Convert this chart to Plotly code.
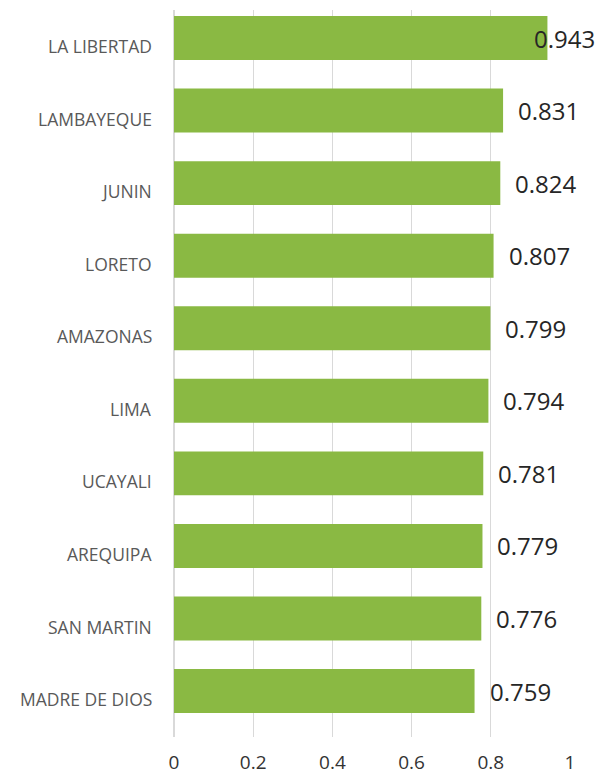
import plotly.graph_objects as go

# Data
regions = ["LA LIBERTAD", "LAMBAYEQUE", "JUNIN", "LORETO", "AMAZONAS",
           "LIMA", "UCAYALI", "AREQUIPA", "SAN MARTIN", "MADRE DE DIOS"]
values = [0.943, 0.831, 0.824, 0.807, 0.799, 0.794, 0.781, 0.779, 0.776, 0.759]
x_ticks = [0, 0.2, 0.4, 0.6, 0.8, 1]
x_tick_labels = ["0", "0.2", "0.4", "0.6", "0.8", "1"]

BAR_COLOR = "#8ab943"
GRID_COLOR = "#d9d9d9"

fig = go.Figure(go.Bar(
    x=values,
    y=regions,
    orientation="h",
    marker=dict(color=BAR_COLOR, line=dict(width=0)),
    width=0.606,
    hoverinfo="x+y",
))

for i, (r, v) in enumerate(zip(regions, values)):
    # value label (first one tucked back over the bar end, as in the original)
    fig.add_annotation(
        x=v, y=r, text=f"{v:.3f}", showarrow=False,
        xanchor="left", yanchor="middle",
        xshift=-15 if i == 0 else 13,
        font=dict(family="Open Sans", size=24, color="#262626"),
    )
    # category label, sitting a little below the bar centre like Excel does
    fig.add_annotation(
        x=0, xref="paper", y=r, text=r, showarrow=False,
        xanchor="right", yanchor="middle",
        xshift=-20, yshift=-8,
        font=dict(family="Open Sans", size=17.5, color="#595959"),
    )

fig.update_layout(
    width=598,
    height=774,
    margin=dict(l=174, r=28, t=10, b=37),
    plot_bgcolor="white",
    paper_bgcolor="white",
    showlegend=False,
)

fig.update_xaxes(
    range=[0, 1],
    tickvals=x_ticks,
    ticktext=x_tick_labels,
    showgrid=True,
    gridcolor=GRID_COLOR,
    gridwidth=1,
    zeroline=True,
    zerolinecolor=GRID_COLOR,
    zerolinewidth=1.5,
    showline=False,
    ticks="",
    ticklabelstandoff=12,
    tickfont=dict(family="Open Sans", size=19, color="#333333"),
    automargin=False,
    fixedrange=True,
)

fig.update_yaxes(
    categoryorder="array",
    categoryarray=regions,
    range=[9.633, -0.386],
    showgrid=False,
    showline=False,
    ticks="",
    showticklabels=False,
    automargin=False,
    fixedrange=True,
)

# drop the default page margin so the figure sits flush in the window
fig.write_html(
    "out.html",
    config={"displayModeBar": False},
    post_script="document.body.style.margin='0';",
)
